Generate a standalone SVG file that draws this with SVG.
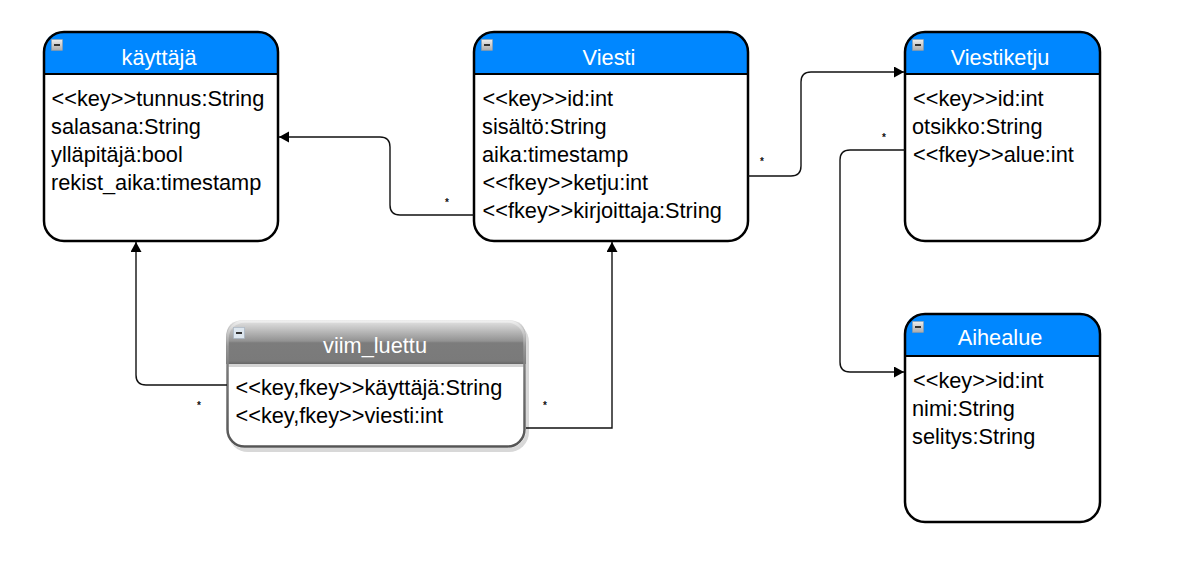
<svg xmlns="http://www.w3.org/2000/svg" width="1200" height="588" viewBox="0 0 1200 588">
<defs>
<marker id="arrow" markerUnits="userSpaceOnUse" markerWidth="12" markerHeight="12" refX="10" refY="5.5" orient="auto"><path d="M0 0L10 5.5L0 11Z" fill="#000"/></marker>
<linearGradient id="btn" x1="0" y1="0" x2="0" y2="1"><stop offset="0" stop-color="#eee"/><stop offset="1" stop-color="#aaa"/></linearGradient>
<linearGradient id="gloss" x1="0" y1="0" x2="0" y2="1"><stop offset="0" stop-color="#e6e6e6"/><stop offset="0.48" stop-color="#929292"/><stop offset="0.52" stop-color="#7c7c7c"/><stop offset="0.93" stop-color="#7a7a7a"/><stop offset="1" stop-color="#666"/></linearGradient>
<linearGradient id="edge" x1="0" y1="0" x2="0" y2="1"><stop offset="0" stop-color="#eee"/><stop offset="0.2" stop-color="#999"/><stop offset="0.4" stop-color="#777"/><stop offset="1" stop-color="#555"/></linearGradient>
</defs>
<style>
text{font-family:"Liberation Sans",Arial,sans-serif;font-size:21.75px;fill:#000}
.t{fill:#fff;text-anchor:middle}
.hd{fill:#0087ff}
.bx{fill:none;stroke:#000;stroke-width:2.5}
.ln{stroke:#000;stroke-width:2;fill:none}
.con{stroke:#111;stroke-width:1.4;fill:none}
.star{font-size:10px;font-weight:bold;fill:#111;text-anchor:middle}
</style>
<rect width="1200" height="588" fill="#fff"/>
<g id="kayttaja">
<path class="hd" d="M44 74V52Q44 32 64 32H258Q278 32 278 52V74Z"/>
<rect x="51.500" y="39.500" width="11" height="11" fill="url(#btn)" stroke="#999" stroke-width="0.5"/><rect x="54" y="44" width="6" height="2" fill="#333"/>
<rect class="bx" x="44" y="32" width="234" height="209" rx="20"/><path class="ln" d="M44 74H278"/>
<text class="t" x="159" y="65">käyttäjä</text>
<text x="51.500" y="106">&lt;&lt;key&gt;&gt;tunnus:String</text>
<text x="51" y="134">salasana:String</text>
<text x="51" y="162">ylläpitäjä:bool</text>
<text x="51" y="190">rekist_aika:timestamp</text>
</g>
<g id="viesti">
<path class="hd" d="M474 74V52Q474 32 494 32H728Q748 32 748 52V74Z"/>
<rect x="481.500" y="39.500" width="11" height="11" fill="url(#btn)" stroke="#999" stroke-width="0.5"/><rect x="484" y="44" width="6" height="2" fill="#333"/>
<rect class="bx" x="474" y="32" width="274" height="209" rx="20"/><path class="ln" d="M474 74H748"/>
<text class="t" x="609" y="65">Viesti</text>
<text x="482.500" y="106">&lt;&lt;key&gt;&gt;id:int</text>
<text x="482" y="134">sisältö:String</text>
<text x="482" y="162">aika:timestamp</text>
<text x="482.500" y="190">&lt;&lt;fkey&gt;&gt;ketju:int</text>
<text x="482.500" y="218">&lt;&lt;fkey&gt;&gt;kirjoittaja:String</text>
</g>
<g id="viestiketju">
<path class="hd" d="M905 74V52Q905 32 925 32H1080Q1100 32 1100 52V74Z"/>
<rect x="912.500" y="39.500" width="11" height="11" fill="url(#btn)" stroke="#999" stroke-width="0.5"/><rect x="915" y="44" width="6" height="2" fill="#333"/>
<rect class="bx" x="905" y="32" width="195" height="209" rx="20"/><path class="ln" d="M905 74H1100"/>
<text class="t" x="1000" y="65">Viestiketju</text>
<text x="913" y="106">&lt;&lt;key&gt;&gt;id:int</text>
<text x="912" y="134">otsikko:String</text>
<text x="913" y="162">&lt;&lt;fkey&gt;&gt;alue:int</text>
</g>
<g id="aihealue">
<path class="hd" d="M905 356V334Q905 314 925 314H1080Q1100 314 1100 334V356Z"/>
<rect x="912.500" y="321.500" width="11" height="11" fill="url(#btn)" stroke="#999" stroke-width="0.5"/><rect x="915" y="326" width="6" height="2" fill="#333"/>
<rect class="bx" x="905" y="314" width="195" height="208" rx="20"/><path class="ln" d="M905 356H1100"/>
<text class="t" x="1000" y="345">Aihealue</text>
<text x="913" y="388">&lt;&lt;key&gt;&gt;id:int</text>
<text x="912" y="416">nimi:String</text>
<text x="912" y="444">selitys:String</text>
</g>
<g id="viim_luettu">
<rect x="228" y="322" width="301" height="130" rx="20" fill="#d8d8d8"/>
<rect x="226" y="320" width="300" height="128" rx="18" fill="#fff"/>
<path fill="url(#gloss)" d="M226 364V338Q226 320 244 320H508Q526 320 526 338V364Z"/>
<rect x="227" y="364" width="298" height="3" fill="#d4d4d4"/>
<rect x="233.500" y="327.500" width="11" height="11" fill="#dde6ee" stroke="#9ab" stroke-width="0.5"/><rect x="236" y="332" width="6" height="2" fill="#333"/>
<rect x="227.500" y="321.500" width="297" height="125" rx="17" fill="none" stroke="url(#edge)" stroke-width="2.500"/>
<text class="t" x="375" y="353">viim_luettu</text>
<text x="235.500" y="395">&lt;&lt;key,fkey&gt;&gt;käyttäjä:String</text>
<text x="235.500" y="423">&lt;&lt;key,fkey&gt;&gt;viesti:int</text>
</g>
<g id="connectors">
<path class="con" marker-end="url(#arrow)" d="M474 215H400Q390 215 390 205V147Q390 137 380 137H279"/>
<path class="con" marker-end="url(#arrow)" d="M748 176H791Q801 176 801 166V82Q801 72 811 72H904"/>
<path class="con" marker-end="url(#arrow)" d="M905 150H850Q840 150 840 160V362Q840 372 850 372H904"/>
<path class="con" marker-end="url(#arrow)" d="M227 385H146Q136 385 136 375V242"/>
<path class="con" marker-end="url(#arrow)" d="M526 428H612V242"/>
<text class="star" x="447" y="206">*</text>
<text class="star" x="762" y="165">*</text>
<text class="star" x="884" y="141">*</text>
<text class="star" x="199" y="409">*</text>
<text class="star" x="545" y="409">*</text>
</g>
</svg>
